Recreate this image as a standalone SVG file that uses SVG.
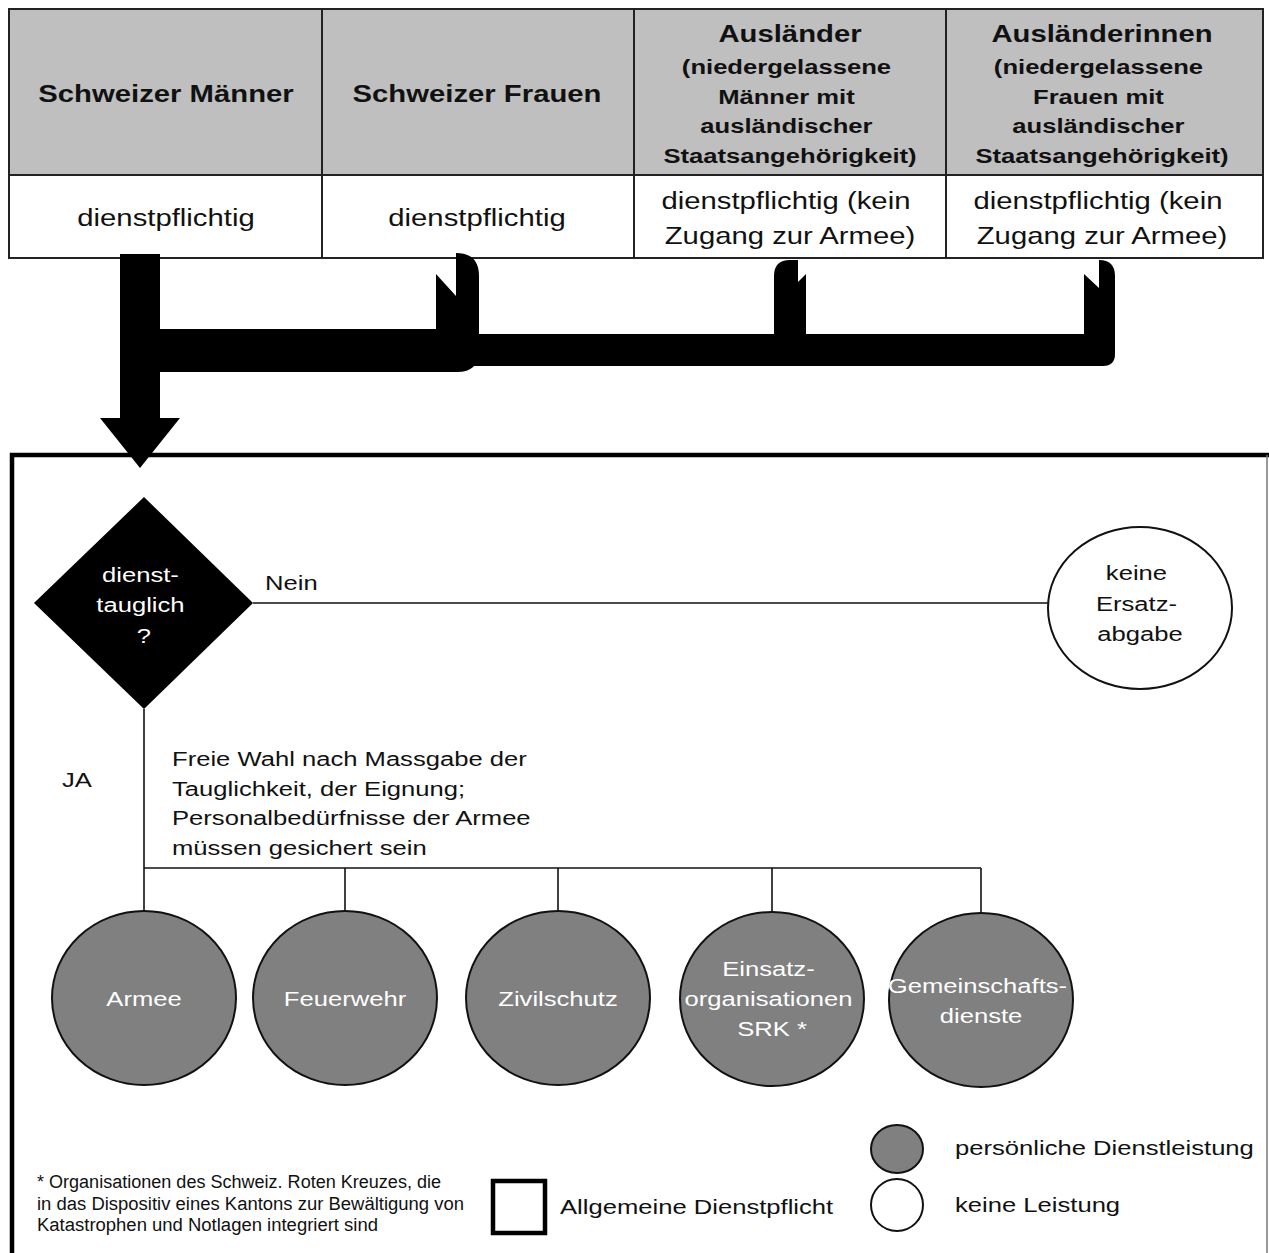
<svg xmlns="http://www.w3.org/2000/svg" width="1269" height="1253" viewBox="0 0 1269 1253">
  <style>
    text { font-family: "Liberation Sans", Arial, sans-serif; fill: #111; }
    .hd { font-weight: bold; font-size: 24px; }
    .hs { font-weight: bold; font-size: 21px; }
    .cell { font-size: 24px; }
    .t { font-size: 21px; }
    .w { fill: #fff; }
    .mid { text-anchor: middle; }
    .grid { stroke: #222; stroke-width: 2; fill: none; }
    .thin { stroke: #111; stroke-width: 1.6; fill: none; }
    .svc { fill: #808080; stroke: #111; stroke-width: 2; }
    .none { fill: #fff; stroke: #111; stroke-width: 2; }
    .fat { fill: #000; }
  </style>

  <!-- table of groups -->
  <g id="table">
    <rect x="9" y="9" width="1254" height="166" fill="#bfbfbf"/>
    <rect x="9" y="175" width="1254" height="83" fill="#fff"/>
    <rect x="9" y="9" width="1254" height="249" class="grid" stroke-width="3"/>
    <line x1="9" y1="175" x2="1263" y2="175" class="grid"/>
    <line x1="322" y1="9" x2="322" y2="258" class="grid"/>
    <line x1="634" y1="9" x2="634" y2="258" class="grid"/>
    <line x1="946" y1="9" x2="946" y2="258" class="grid"/>

    <g id="col-maenner">
      <text class="hd mid" transform="translate(166,102) scale(1.22,1)">Schweizer Männer</text>
      <text class="cell mid" transform="translate(166,226) scale(1.22,1)">dienstpflichtig</text>
    </g>
    <g id="col-frauen">
      <text class="hd mid" transform="translate(477,102) scale(1.22,1)">Schweizer Frauen</text>
      <text class="cell mid" transform="translate(477,226) scale(1.22,1)">dienstpflichtig</text>
    </g>
    <g id="col-auslaender">
      <text class="hd mid" transform="translate(790,42) scale(1.22,1)">Ausländer</text>
      <text class="hs mid" transform="translate(790,74) scale(1.22,1)">
        <tspan x="0" y="0">(niedergelassene</tspan>
        <tspan x="0" y="30">Männer mit</tspan>
        <tspan x="0" y="59">ausländischer</tspan>
        <tspan x="0" y="89">Staatsangehörigkeit)</tspan>
      </text>
      <text class="cell mid" transform="translate(790,209) scale(1.22,1)">
        <tspan x="0" y="0">dienstpflichtig (kein</tspan>
        <tspan x="0" y="35">Zugang zur Armee)</tspan>
      </text>
    </g>
    <g id="col-auslaenderinnen">
      <text class="hd mid" transform="translate(1102,42) scale(1.22,1)">Ausländerinnen</text>
      <text class="hs mid" transform="translate(1102,74) scale(1.22,1)">
        <tspan x="0" y="0">(niedergelassene</tspan>
        <tspan x="0" y="30">Frauen mit</tspan>
        <tspan x="0" y="59">ausländischer</tspan>
        <tspan x="0" y="89">Staatsangehörigkeit)</tspan>
      </text>
      <text class="cell mid" transform="translate(1102,209) scale(1.22,1)">
        <tspan x="0" y="0">dienstpflichtig (kein</tspan>
        <tspan x="0" y="35">Zugang zur Armee)</tspan>
      </text>
    </g>
  </g>

  <!-- frame around the decision area -->
  <g id="frame">
    <path d="M12,1253 L12,455 L1269,455" fill="none" stroke="#000" stroke-width="4.5"/>
    <line x1="1267" y1="455" x2="1267" y2="1253" stroke="#777" stroke-width="1.5"/>
  </g>

  <g id="connectors">
    <!-- thick collector arrows from the table -->
    <rect class="fat" x="120" y="254" width="40" height="165"/>
    <polygon class="fat" points="100,418 180,418 140,468"/>
    <path class="fat" d="M158,329 L436,329 L436,274 L456,296 L456,253 Q479,253 479,276 L479,350 Q479,372 457,372 L158,372 Z"/>
    <path class="fat" d="M470,334 L774,334 L774,276 Q774,260 790,260 L798,260 L798,282 L806,274 L806,334 L1084,334 L1084,274 L1099,288 L1099,260 Q1115,260 1115,276 L1115,354 Q1115,366 1103,366 L470,366 Z"/>

    <!-- decision branches -->
    <line class="thin" x1="253" y1="603" x2="1048" y2="603"/>
    <line class="thin" x1="144" y1="709" x2="144" y2="911"/>
    <line class="thin" x1="144" y1="868" x2="981" y2="868"/>
    <line class="thin" x1="345" y1="868" x2="345" y2="911"/>
    <line class="thin" x1="558" y1="868" x2="558" y2="911"/>
    <line class="thin" x1="772" y1="868" x2="772" y2="912"/>
    <line class="thin" x1="981" y1="868" x2="981" y2="913"/>

    <text class="t" transform="translate(265,590) scale(1.22,1)">Nein</text>
    <text class="t" transform="translate(62,787) scale(1.22,1)">JA</text>
    <text class="t" transform="translate(172,766) scale(1.22,1)">
      <tspan x="0" y="0">Freie Wahl nach Massgabe der</tspan>
      <tspan x="0" y="30">Tauglichkeit, der Eignung;</tspan>
      <tspan x="0" y="59">Personalbedürfnisse der Armee</tspan>
      <tspan x="0" y="89">müssen gesichert sein</tspan>
    </text>
  </g>

  <g id="decision">
    <polygon points="144,497 253,603 144,709 34,603" fill="#000"/>
    <text class="t w mid" transform="translate(144,582) scale(1.22,1)">
      <tspan x="0" y="0">dienst-</tspan>
      <tspan x="0" y="30">tauglich</tspan>
      <tspan x="0" y="61">?</tspan>
    </text>
  </g>

  <g id="keine-ersatzabgabe">
    <ellipse class="none" cx="1140" cy="608" rx="92" ry="81"/>
    <text class="t mid" transform="translate(1140,580) scale(1.22,1)">
      <tspan x="0" y="0">keine</tspan>
      <tspan x="0" y="31">Ersatz-</tspan>
      <tspan x="0" y="61">abgabe</tspan>
    </text>
  </g>

  <g id="armee">
    <ellipse class="svc" cx="144" cy="998" rx="92" ry="87"/>
    <text class="t w mid" transform="translate(144,1006) scale(1.22,1)">Armee</text>
  </g>
  <g id="feuerwehr">
    <ellipse class="svc" cx="345" cy="998" rx="92" ry="87"/>
    <text class="t w mid" transform="translate(345,1006) scale(1.22,1)">Feuerwehr</text>
  </g>
  <g id="zivilschutz">
    <ellipse class="svc" cx="558" cy="998" rx="92" ry="87"/>
    <text class="t w mid" transform="translate(558,1006) scale(1.22,1)">Zivilschutz</text>
  </g>
  <g id="einsatzorganisationen">
    <ellipse class="svc" cx="772" cy="999" rx="92" ry="87"/>
    <text class="t w mid" transform="translate(772,976) scale(1.22,1)">
      <tspan x="0" y="0">Einsatz-</tspan>
      <tspan x="0" y="30">organisationen</tspan>
      <tspan x="0" y="60">SRK *</tspan>
    </text>
  </g>
  <g id="gemeinschaftsdienste">
    <ellipse class="svc" cx="981" cy="1000" rx="92" ry="87"/>
    <text class="t w mid" transform="translate(981,993) scale(1.22,1)">
      <tspan x="0" y="0">Gemeinschafts-</tspan>
      <tspan x="0" y="30">dienste</tspan>
    </text>
  </g>

  <!-- footnote and legend -->
  <g id="footnote">
    <text font-size="18" x="37" y="1188" textLength="404" lengthAdjust="spacingAndGlyphs">* Organisationen des Schweiz. Roten Kreuzes, die</text>
    <text font-size="18" x="37" y="1210" textLength="427" lengthAdjust="spacingAndGlyphs">in das Dispositiv eines Kantons zur Bewältigung von</text>
    <text font-size="18" x="37" y="1231" textLength="341" lengthAdjust="spacingAndGlyphs">Katastrophen und Notlagen integriert sind</text>
  </g>
  <g id="legend">
    <rect x="493" y="1181" width="52" height="52" fill="#fff" stroke="#000" stroke-width="4.5"/>
    <text class="t" transform="translate(560,1214) scale(1.22,1)">Allgemeine Dienstpflicht</text>
    <ellipse class="svc" cx="897" cy="1149" rx="26" ry="24"/>
    <ellipse class="none" cx="897" cy="1205" rx="26" ry="26"/>
    <text class="t" transform="translate(955,1155) scale(1.22,1)">persönliche Dienstleistung</text>
    <text class="t" transform="translate(955,1212) scale(1.22,1)">keine Leistung</text>
  </g>
</svg>
